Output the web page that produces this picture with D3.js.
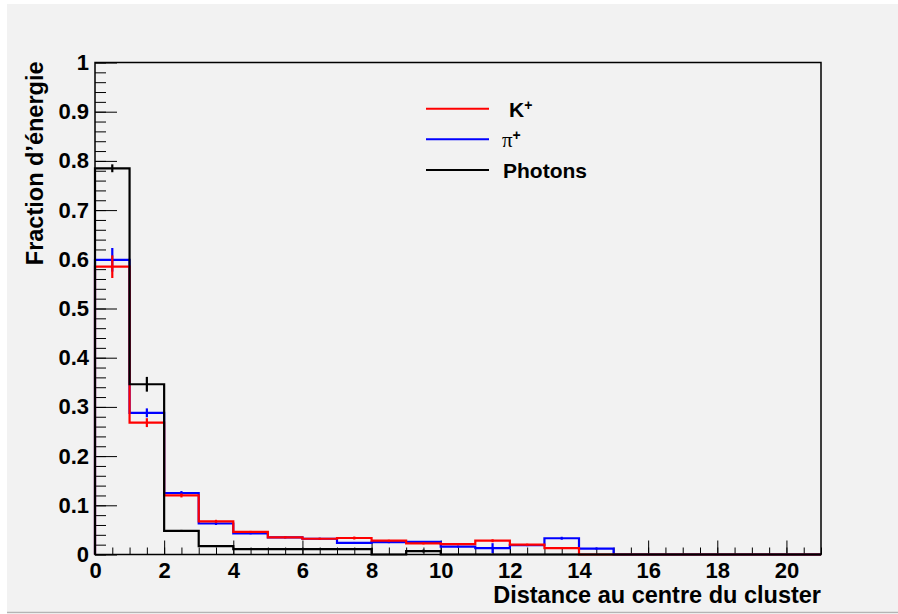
<!DOCTYPE html>
<html>
<head>
<meta charset="utf-8">
<script src="https://d3js.org/d3.v7.min.js"></script>
<style>
  html, body { margin: 0; padding: 0; background: #ffffff; }
  svg text { font-family: "Liberation Sans", Arial, Helvetica, sans-serif; font-weight: bold; fill: #000; }
</style>
</head>
<body>
<div id="chart"></div>
<script>
// --- données (bins de largeur 1, de 0 à 21) ---
const binEdges = d3.range(0, 22);   // 0,1,...,21
const kaonValues = [0.585, 0.268, 0.120, 0.0675, 0.046, 0.035, 0.032, 0.0335, 0.028, 0.0225, 0.021, 0.028, 0.020, 0.013, 0, 0, 0, 0, 0, 0, 0];
const kaonErrors = [0.023, 0.009, 0.004, 0.003, 0.002, 0.002, 0.002, 0.003, 0.002, 0.002, 0.002, 0.003, 0.002, 0.002, 0, 0, 0, 0, 0, 0, 0];
const pionValues = [0.599, 0.288, 0.125, 0.063, 0.043, 0.035, 0.032, 0.0235, 0.025, 0.0255, 0.016, 0.013, 0.019, 0.033, 0.012, 0, 0, 0, 0, 0, 0];
const pionErrors = [0.024, 0.009, 0.004, 0.003, 0.002, 0.002, 0.002, 0.002, 0.002, 0.002, 0.002, 0.010, 0.002, 0.003, 0.002, 0, 0, 0, 0, 0, 0];
const photonValues = [0.785, 0.346, 0.048, 0.017, 0.011, 0.011, 0.011, 0.011, 0, 0.007, 0, 0, 0, 0, 0, 0, 0, 0, 0, 0, 0];
const photonErrors = [0.008, 0.015, 0.002, 0.002, 0.001, 0.001, 0.001, 0.001, 0, 0.003, 0, 0, 0, 0, 0, 0, 0, 0, 0, 0, 0];

const xMajorTicks = d3.range(0, 21, 2);          // 0..20
const xMinorTicks = d3.range(0, 21.01, 0.5);
const yMajorTicks = d3.range(0, 1.001, 0.1);
const yMinorTicks = d3.range(0, 1.001, 0.02);
const yTickLabels = ["0", "0.1", "0.2", "0.3", "0.4", "0.5", "0.6", "0.7", "0.8", "0.9", "1"];

const xTitle = "Distance au centre du cluster";
const yTitle = "Fraction d\u2019énergie";

// --- 1. canevas ---
const width = 898, height = 614;
const frame = { left: 95, right: 821, top: 62.5, bottom: 554.5 };

const svg = d3.select("#chart").append("svg")
  .attr("width", width)
  .attr("height", height);

svg.append("rect")
  .attr("x", 7).attr("y", 4)
  .attr("width", width - 7).attr("height", 608)
  .attr("fill", "#f2f2f2");
svg.append("line")
  .attr("x1", 7).attr("x2", width)
  .attr("y1", 612.5).attr("y2", 612.5)
  .attr("stroke", "#b4b4b4").attr("stroke-width", 1.5);

const x = d3.scaleLinear().domain([0, 21]).range([frame.left, frame.right]);
const y = d3.scaleLinear().domain([0, 1]).range([frame.bottom, frame.top]);

// --- 2. axes (ticks vers l'intérieur, façon ROOT) ---
const gx = svg.append("g").attr("transform", `translate(0,${frame.bottom})`);
gx.call(d3.axisBottom(x).tickValues(xMinorTicks).tickSizeInner(-7).tickSizeOuter(0).tickFormat(""));
const gx2 = svg.append("g").attr("transform", `translate(0,${frame.bottom})`);
gx2.call(d3.axisBottom(x).tickValues(xMajorTicks).tickSizeInner(-14).tickSizeOuter(0).tickPadding(8).tickFormat(d3.format("d")));

const gy = svg.append("g").attr("transform", `translate(${frame.left},0)`);
gy.call(d3.axisLeft(y).tickValues(yMinorTicks).tickSizeInner(-11).tickSizeOuter(0).tickFormat(""));
const gy2 = svg.append("g").attr("transform", `translate(${frame.left},0)`);
gy2.call(d3.axisLeft(y).tickValues(yMajorTicks).tickSizeInner(-22).tickSizeOuter(0).tickPadding(6)
  .tickFormat((d, i) => yTickLabels[i]));

svg.selectAll(".domain").remove();
svg.selectAll(".tick line").attr("stroke", "#000").attr("stroke-width", 1);
svg.selectAll(".tick text")
  .style("font-family", "'Liberation Sans', Arial, sans-serif")
  .style("font-weight", "bold")
  .style("font-size", "22px")
  .attr("fill", "#000");

// --- 3. histogrammes ---
function stepPoints(values) {
  const pts = [[binEdges[0], 0]];
  values.forEach((v, i) => {
    pts.push([binEdges[i], v]);
    pts.push([binEdges[i + 1], v]);
  });
  pts.push([binEdges[binEdges.length - 1], 0]);
  return pts;
}

const line = d3.line().x(d => x(d[0])).y(d => y(d[1]));

const series = [
  { name: "pion", values: pionValues, errors: pionErrors, color: "#0000ff" },
  { name: "kaon", values: kaonValues, errors: kaonErrors, color: "#ff0000" },
  { name: "photon", values: photonValues, errors: photonErrors, color: "#000000" }
];

series.forEach(s => {
  svg.append("path")
    .attr("d", line(stepPoints(s.values)))
    .attr("fill", "none")
    .attr("stroke", s.color)
    .attr("stroke-width", 2.2);

  // barres d'erreur (croix au centre du bin)
  const bins = s.values.map((v, i) => ({ c: (binEdges[i] + binEdges[i + 1]) / 2, v: v, e: s.errors[i] }))
    .filter(d => d.v > 0 && d.e > 0);
  svg.append("g").selectAll("line")
    .data(bins)
    .enter()
    .append("line")
    .attr("x1", d => x(d.c)).attr("x2", d => x(d.c))
    .attr("y1", d => y(d.v - d.e)).attr("y2", d => y(d.v + d.e))
    .attr("stroke", s.color)
    .attr("stroke-width", 2.2);
});

// --- 4. cadre ---
svg.append("rect")
  .attr("x", frame.left).attr("y", frame.top)
  .attr("width", frame.right - frame.left).attr("height", frame.bottom - frame.top)
  .attr("fill", "none")
  .attr("stroke", "#000")
  .attr("stroke-width", 1.5);

// --- 5. titres des axes ---
svg.append("text")
  .attr("x", frame.right)
  .attr("y", 602.5)
  .attr("text-anchor", "end")
  .style("font-size", "23.5px")
  .text(xTitle);

svg.append("text")
  .attr("transform", `translate(43,${frame.top - 1}) rotate(-90)`)
  .attr("text-anchor", "end")
  .style("font-size", "23.5px")
  .text(yTitle);

// --- 6. légende ---
const legendItems = [
  { label: "K", sup: "+", color: "#ff0000", y: 108.7, symbol: false },
  { label: "\u03c0", sup: "+", color: "#0000ff", y: 139.3, symbol: true },
  { label: "Photons", sup: "", color: "#000000", y: 170, symbol: false }
];

const legend = svg.append("g");
legendItems.forEach(item => {
  legend.append("line")
    .attr("x1", 426).attr("x2", 489)
    .attr("y1", item.y).attr("y2", item.y)
    .attr("stroke", item.color)
    .attr("stroke-width", 2);

  const t = legend.append("text")
    .attr("x", item.symbol ? 502 : (item.sup ? 509 : 503))
    .attr("y", item.y + 8)
    .style("font-size", "21px");
  t.append("tspan")
    .style("font-weight", item.symbol ? "normal" : "bold")
    .style("font-family", item.symbol ? "'Liberation Serif', serif" : null)
    .style("font-size", item.symbol ? "21px" : null)
    .text(item.label);
  if (item.sup) {
    t.append("tspan")
      .attr("dy", -7)
      .style("font-size", "14px")
      .text(item.sup);
  }
});
</script>
</body>
</html>
